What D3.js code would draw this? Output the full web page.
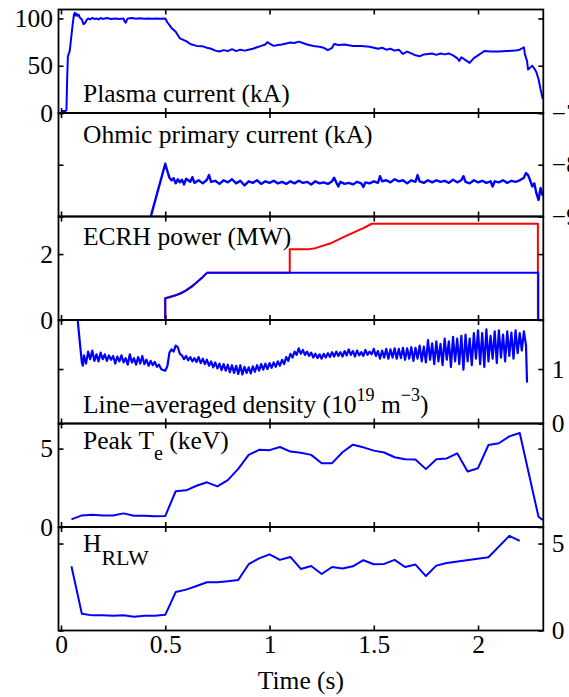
<!DOCTYPE html>
<html>
<head>
<meta charset="utf-8">
<script src="https://cdn.jsdelivr.net/npm/d3@7"></script>
<style>
  body { margin: 0; background: #fff; }
  text { font-family: "Liberation Serif", "Times New Roman", serif; fill: #000; }
</style>
</head>
<body>
<div id="chart"></div>
<script>
// time axis
const timeTicks = [0, 0.5, 1, 1.5, 2];

// [time (s), value]
const plasmaCurrent = [[0,2],[0.02,2],[0.026,3],[0.03,40],[0.033,60],[0.038,63],[0.042,66],[0.048,78],[0.055,92],[0.062,104],[0.066,106],[0.07,103],[0.075,105],[0.08,103],[0.085,104],[0.09,101],[0.1,99],[0.108,94],[0.115,95],[0.122,98],[0.13,100],[0.14,99],[0.15,100.5],[0.16,99.5],[0.17,100],[0.18,99],[0.19,100.5],[0.2,99.5],[0.22,100.5],[0.24,99.5],[0.26,100],[0.28,99.5],[0.3,100],[0.305,97],[0.31,95.5],[0.315,98],[0.32,100],[0.34,100.5],[0.36,99.8],[0.38,100.2],[0.4,99.6],[0.42,100],[0.44,99.7],[0.46,100],[0.48,99.8],[0.5,100],[0.51,96],[0.53,90],[0.55,86],[0.57,79],[0.6,76],[0.62,73],[0.65,71],[0.68,70.5],[0.7,69],[0.72,68],[0.74,66],[0.76,65],[0.78,66.5],[0.8,65.5],[0.82,67.5],[0.84,65.5],[0.86,67],[0.88,66],[0.9,67],[0.92,68],[0.94,69.5],[0.96,71],[0.98,72.5],[0.99,75],[1.0,73.5],[1.02,71],[1.04,72],[1.06,72.5],[1.08,73.5],[1.1,74.5],[1.12,74],[1.14,75.5],[1.16,74],[1.18,72.5],[1.2,71.5],[1.22,70.5],[1.24,70],[1.26,69],[1.28,66.5],[1.3,69],[1.31,73],[1.33,72],[1.36,72.5],[1.4,71],[1.44,71],[1.48,70],[1.52,68],[1.54,69],[1.56,67],[1.58,68],[1.6,66],[1.62,67],[1.64,62.5],[1.66,65],[1.68,63],[1.7,61],[1.72,60],[1.74,62],[1.76,62.5],[1.78,63],[1.8,61.5],[1.82,63],[1.84,62],[1.86,63],[1.88,61],[1.9,58],[1.91,55],[1.92,59],[1.94,56],[1.96,53],[1.98,58],[2.0,61],[2.02,64],[2.03,65.5],[2.06,65],[2.1,65],[2.14,65.5],[2.18,66],[2.2,67],[2.22,69.5],[2.225,62],[2.235,55],[2.24,46],[2.25,48],[2.26,50],[2.27,47],[2.28,43],[2.29,36],[2.3,25],[2.31,15]];

const ohmicCurrent = [[0.4,-9.45],[0.5,-7.98],[0.51,-8.12],[0.52,-8.25],[0.53,-8.3],[0.54,-8.26],[0.55,-8.36],[0.56,-8.28],[0.57,-8.34],[0.58,-8.29],[0.59,-8.38],[0.6,-8.27],[0.62,-8.33],[0.63,-8.24],[0.64,-8.35],[0.66,-8.3],[0.68,-8.36],[0.7,-8.29],[0.71,-8.2],[0.72,-8.33],[0.74,-8.31],[0.76,-8.37],[0.78,-8.3],[0.8,-8.34],[0.82,-8.28],[0.84,-8.36],[0.86,-8.31],[0.88,-8.4],[0.9,-8.32],[0.92,-8.35],[0.94,-8.3],[0.96,-8.37],[0.98,-8.32],[1.0,-8.35],[1.02,-8.31],[1.04,-8.36],[1.06,-8.33],[1.08,-8.37],[1.1,-8.32],[1.12,-8.36],[1.14,-8.31],[1.16,-8.35],[1.18,-8.33],[1.2,-8.38],[1.22,-8.32],[1.24,-8.36],[1.26,-8.34],[1.28,-8.37],[1.3,-8.32],[1.31,-8.25],[1.32,-8.34],[1.33,-8.42],[1.34,-8.33],[1.36,-8.37],[1.38,-8.35],[1.4,-8.38],[1.42,-8.33],[1.44,-8.36],[1.45,-8.43],[1.46,-8.34],[1.48,-8.36],[1.5,-8.32],[1.52,-8.35],[1.53,-8.22],[1.54,-8.32],[1.56,-8.3],[1.58,-8.34],[1.6,-8.28],[1.62,-8.32],[1.64,-8.3],[1.66,-8.36],[1.68,-8.3],[1.7,-8.33],[1.71,-8.2],[1.72,-8.32],[1.74,-8.35],[1.76,-8.3],[1.78,-8.34],[1.8,-8.3],[1.82,-8.33],[1.84,-8.31],[1.86,-8.35],[1.88,-8.29],[1.9,-8.34],[1.92,-8.3],[1.93,-8.22],[1.94,-8.33],[1.96,-8.36],[1.98,-8.3],[2.0,-8.34],[2.02,-8.31],[2.04,-8.35],[2.06,-8.32],[2.07,-8.42],[2.08,-8.32],[2.1,-8.34],[2.12,-8.3],[2.14,-8.35],[2.16,-8.31],[2.18,-8.33],[2.2,-8.3],[2.22,-8.25],[2.23,-8.16],[2.24,-8.2],[2.25,-8.3],[2.26,-8.42],[2.27,-8.36],[2.28,-8.55],[2.29,-8.68],[2.3,-8.45],[2.31,-8.6]];

const ecrhBlue = [[0.5,0],[0.5,0.66],[0.52,0.69],[0.55,0.75],[0.58,0.82],[0.6,0.9],[0.63,1.02],[0.65,1.14],[0.68,1.3],[0.7,1.43],[2.289,1.43],[2.289,0],[2.31,0]];
const ecrhRed = [[0.45,0],[0.5,0],[0.5,0.66],[0.55,0.75],[0.6,0.9],[0.65,1.14],[0.7,1.43],[1.097,1.43],[1.097,2.15],[1.19,2.15],[1.22,2.18],[1.29,2.32],[1.37,2.56],[1.45,2.79],[1.49,2.92],[2.0,2.92],[2.287,2.92],[2.287,0]];

const density = [[0.05,2.1],[0.07,2.0],[0.08,1.9],[0.09,1.5],[0.1,1.12],[0.105,1.06],[0.11,1.25],[0.12,1.1],[0.13,1.32],[0.14,1.18],[0.15,1.34],[0.16,1.15],[0.17,1.27],[0.18,1.14],[0.19,1.3],[0.2,1.18],[0.21,1.27],[0.22,1.15],[0.23,1.25],[0.24,1.17],[0.25,1.24],[0.26,1.1],[0.27,1.23],[0.28,1.14],[0.29,1.25],[0.3,1.12],[0.31,1.2],[0.32,1.08],[0.33,1.27],[0.34,1.12],[0.35,1.2],[0.36,1.08],[0.37,1.22],[0.38,1.1],[0.39,1.24],[0.4,1.09],[0.41,1.17],[0.42,1.06],[0.43,1.15],[0.44,1.07],[0.45,1.13],[0.46,1.04],[0.47,1.08],[0.48,1.0],[0.49,0.98],[0.5,0.97],[0.51,1.05],[0.52,1.3],[0.53,1.36],[0.54,1.32],[0.55,1.43],[0.56,1.4],[0.57,1.28],[0.58,1.25],[0.59,1.18],[0.6,1.24],[0.61,1.16],[0.62,1.22],[0.63,1.14],[0.64,1.2],[0.65,1.13],[0.66,1.22],[0.67,1.11],[0.68,1.19],[0.69,1.09],[0.7,1.17],[0.71,1.06],[0.72,1.14],[0.73,1.03],[0.74,1.12],[0.75,1.01],[0.76,1.1],[0.77,0.98],[0.78,1.09],[0.79,0.97],[0.8,1.08],[0.81,0.94],[0.82,1.07],[0.83,0.93],[0.84,1.06],[0.85,0.91],[0.86,1.07],[0.87,0.9],[0.88,1.04],[0.89,0.93],[0.9,1.03],[0.91,0.92],[0.92,1.05],[0.93,0.95],[0.94,1.07],[0.95,0.97],[0.96,1.09],[0.97,0.99],[0.98,1.1],[0.99,1.0],[1.0,1.11],[1.01,1.02],[1.02,1.12],[1.03,1.04],[1.04,1.14],[1.05,1.06],[1.06,1.17],[1.07,1.09],[1.08,1.22],[1.09,1.15],[1.1,1.28],[1.11,1.21],[1.12,1.32],[1.13,1.26],[1.14,1.38],[1.15,1.28],[1.16,1.35],[1.17,1.26],[1.18,1.32],[1.19,1.24],[1.2,1.3],[1.21,1.21],[1.22,1.28],[1.23,1.2],[1.24,1.27],[1.25,1.19],[1.26,1.28],[1.27,1.21],[1.28,1.29],[1.29,1.22],[1.3,1.31],[1.31,1.23],[1.32,1.32],[1.33,1.24],[1.34,1.31],[1.35,1.23],[1.36,1.33],[1.37,1.25],[1.38,1.36],[1.39,1.26],[1.4,1.33],[1.41,1.23],[1.42,1.34],[1.43,1.25],[1.44,1.31],[1.45,1.24],[1.46,1.35],[1.47,1.26],[1.48,1.32],[1.49,1.27],[1.5,1.37],[1.51,1.24],[1.52,1.33],[1.53,1.19],[1.54,1.34],[1.55,1.21],[1.56,1.37],[1.57,1.19],[1.58,1.36],[1.59,1.21],[1.6,1.38],[1.61,1.19],[1.62,1.37],[1.63,1.2],[1.64,1.39],[1.65,1.17],[1.66,1.38],[1.67,1.19],[1.68,1.4],[1.69,1.15],[1.7,1.39],[1.71,1.19],[1.72,1.43],[1.73,1.14],[1.74,1.41],[1.75,1.12],[1.76,1.53],[1.77,1.17],[1.78,1.47],[1.79,1.09],[1.8,1.51],[1.81,1.14],[1.82,1.46],[1.83,1.07],[1.84,1.56],[1.85,1.17],[1.86,1.51],[1.87,1.04],[1.88,1.59],[1.89,1.14],[1.9,1.56],[1.91,1.09],[1.92,1.61],[1.93,0.99],[1.94,1.63],[1.95,1.14],[1.96,1.56],[1.97,1.07],[1.98,1.66],[1.99,1.19],[2.0,1.71],[2.01,1.09],[2.02,1.66],[2.03,1.04],[2.04,1.73],[2.05,1.14],[2.06,1.61],[2.07,1.19],[2.08,1.69],[2.09,1.11],[2.1,1.71],[2.11,1.21],[2.12,1.63],[2.13,1.14],[2.14,1.69],[2.15,1.24],[2.16,1.67],[2.17,1.19],[2.18,1.71],[2.19,1.29],[2.2,1.66],[2.21,1.34],[2.22,1.69],[2.23,1.44],[2.235,0.75]];

const peakTe = [[0.05,0.49],[0.1,0.74],[0.15,0.78],[0.2,0.74],[0.25,0.74],[0.3,0.87],[0.35,0.72],[0.4,0.72],[0.45,0.68],[0.5,0.7],[0.55,2.28],[0.6,2.34],[0.65,2.63],[0.7,2.85],[0.75,2.59],[0.8,2.99],[0.85,3.71],[0.9,4.6],[0.95,4.92],[1.0,4.9],[1.05,5.1],[1.1,4.81],[1.15,4.73],[1.2,4.6],[1.25,4.07],[1.3,4.07],[1.35,4.77],[1.4,5.25],[1.45,5.08],[1.5,4.87],[1.55,4.75],[1.6,4.45],[1.65,4.32],[1.7,4.3],[1.75,3.69],[1.8,4.32],[1.85,4.37],[1.9,4.7],[1.95,3.54],[2.0,3.75],[2.05,5.23],[2.1,5.34],[2.15,5.78],[2.2,5.99],[2.29,0.65],[2.31,0.45]];

const hRlw = [[0.05,3.69],[0.1,0.96],[0.15,0.87],[0.2,0.87],[0.25,0.85],[0.3,0.88],[0.35,0.79],[0.4,0.85],[0.45,0.85],[0.5,0.9],[0.55,2.21],[0.6,2.35],[0.65,2.56],[0.7,2.77],[0.75,2.77],[0.8,2.83],[0.85,2.9],[0.9,3.81],[0.95,4.15],[1.0,4.38],[1.05,4.06],[1.1,4.23],[1.15,3.54],[1.2,3.71],[1.25,3.25],[1.3,3.65],[1.35,3.56],[1.4,3.69],[1.45,4.04],[1.5,3.81],[1.55,3.83],[1.6,4.06],[1.65,3.65],[1.7,3.79],[1.75,3.13],[1.8,3.73],[1.85,3.88],[2.05,4.21],[2.15,5.44],[2.2,5.15]];

// y tick values per panel
const ticksPlasma = [0, 50, 100];
const ticksOhmic = [-9, -8, -7];
const ticksEcrh = [0, 2];
const ticksDensity = [0, 1];
const ticksTe = [0, 5];
const ticksH = [0, 5];

var width = 569, height = 697,
    plotLeft = 58.5, plotRight = 543.3, plotTop = 9.5, panelH = 103.5,
    tickFont = 25.5, titleFont = 25.5, blue = "#0000ff", red = "#ff0000";

const svg = d3.select("#chart").append("svg")
  .attr("width", width)
  .attr("height", height);

let x = d3.scaleLinear()
    .domain([-0.012, 2.313])
    .range([plotLeft, plotRight]);

let panels = [
  { domain: [0, 109.5], ticks: ticksPlasma, side: "left", series: [[plasmaCurrent, blue, 2]] },
  { domain: [-9, -7], ticks: ticksOhmic, side: "right", series: [[ohmicCurrent, blue, 2.4]] },
  { domain: [0, 3.14], ticks: ticksEcrh, side: "left", series: [[ecrhRed, red, 2], [ecrhBlue, blue, 2]] },
  { domain: [0, 1.9], ticks: ticksDensity, side: "right", series: [[density, blue, 2.2]] },
  { domain: [0, 6.6], ticks: ticksTe, side: "left", series: [[peakTe, blue, 2]] },
  { domain: [0, 5.95], ticks: ticksH, side: "right", series: [[hRlw, blue, 2]] }
];

const fmt = d3.format("");

panels.forEach((p, i) => {
  let y0 = plotTop + i * panelH, y1 = y0 + panelH;
  let y = d3.scaleLinear().domain(p.domain).range([y1, y0]);

  svg.append("clipPath")
    .attr("id", "clip" + i)
    .append("rect")
    .attr("x", plotLeft).attr("y", y0)
    .attr("width", plotRight - plotLeft).attr("height", panelH);

  let line = d3.line().x(d => x(d[0])).y(d => y(d[1]));
  p.series.forEach(s => {
    svg.append("path")
      .datum(s[0])
      .attr("clip-path", `url(#clip${i})`)
      .attr("fill", "none")
      .attr("stroke", s[1])
      .attr("stroke-width", s[2])
      .attr("stroke-linejoin", "round")
      .attr("d", line);
  });

  // y axes, ticks pointing inward on both sides
  let yl = svg.append("g")
    .attr("transform", `translate(${plotLeft},0)`)
    .call(d3.axisLeft(y).tickValues(p.ticks).tickSize(-5).tickPadding(5.5)
      .tickFormat(p.side == "left" ? fmt : ""));
  let yr = svg.append("g")
    .attr("transform", `translate(${plotRight},0)`)
    .call(d3.axisRight(y).tickValues(p.ticks).tickSize(-5).tickPadding(8.5)
      .tickFormat(p.side == "right" ? fmt : ""));

  // x ticks on top and bottom of every panel
  let xt = svg.append("g")
    .attr("transform", `translate(0,${y0})`)
    .call(d3.axisTop(x).tickValues(timeTicks).tickSize(-5).tickFormat(""));
  let xb = svg.append("g")
    .attr("transform", `translate(0,${y1})`)
    .call(d3.axisBottom(x).tickValues(timeTicks).tickSize(-5).tickPadding(4)
      .tickFormat(i == panels.length - 1 ? fmt : ""));

  [yl, yr, xt, xb].forEach(g => {
    g.select(".domain").remove();
    g.selectAll(".tick line").attr("stroke", "#000").attr("stroke-width", 1.6);
    g.selectAll("text")
      .attr("font-size", tickFont)
      .attr("font-family", "Liberation Serif, serif")
      .attr("fill", "#000");
  });

  svg.append("rect")
    .attr("x", plotLeft).attr("y", y0)
    .attr("width", plotRight - plotLeft).attr("height", panelH)
    .attr("fill", "none")
    .attr("stroke", "#000")
    .attr("stroke-width", 1.8);
});

// panel titles
const tx = 83;
svg.append("text").attr("x", tx).attr("y", 102).attr("font-size", titleFont).text("Plasma current (kA)");
svg.append("text").attr("x", tx).attr("y", 143).attr("font-size", titleFont).text("Ohmic primary current (kA)");
svg.append("text").attr("x", tx).attr("y", 245).attr("font-size", titleFont).text("ECRH power (MW)");

let dens = svg.append("text").attr("x", tx).attr("y", 413).attr("font-size", titleFont);
dens.append("tspan").text("Line\u2212averaged density (10");
dens.append("tspan").attr("dy", -12).attr("font-size", 18).text("19");
dens.append("tspan").attr("dy", 12).text(" m");
dens.append("tspan").attr("dy", -12).attr("font-size", 18).text("\u22123");
dens.append("tspan").attr("dy", 12).text(")");

let te = svg.append("text").attr("x", tx).attr("y", 449).attr("font-size", titleFont);
te.append("tspan").text("Peak T");
te.append("tspan").attr("dy", 11).attr("font-size", 20).text("e");
te.append("tspan").attr("dy", -11).text(" (keV)");

let h = svg.append("text").attr("x", tx).attr("y", 552).attr("font-size", titleFont);
h.append("tspan").text("H");
h.append("tspan").attr("dy", 13).attr("font-size", 22).text("RLW");

svg.append("text")
  .attr("x", (plotLeft + plotRight) / 2)
  .attr("y", 689)
  .attr("text-anchor", "middle")
  .attr("font-size", titleFont)
  .text("Time (s)");
</script>
</body>
</html>
